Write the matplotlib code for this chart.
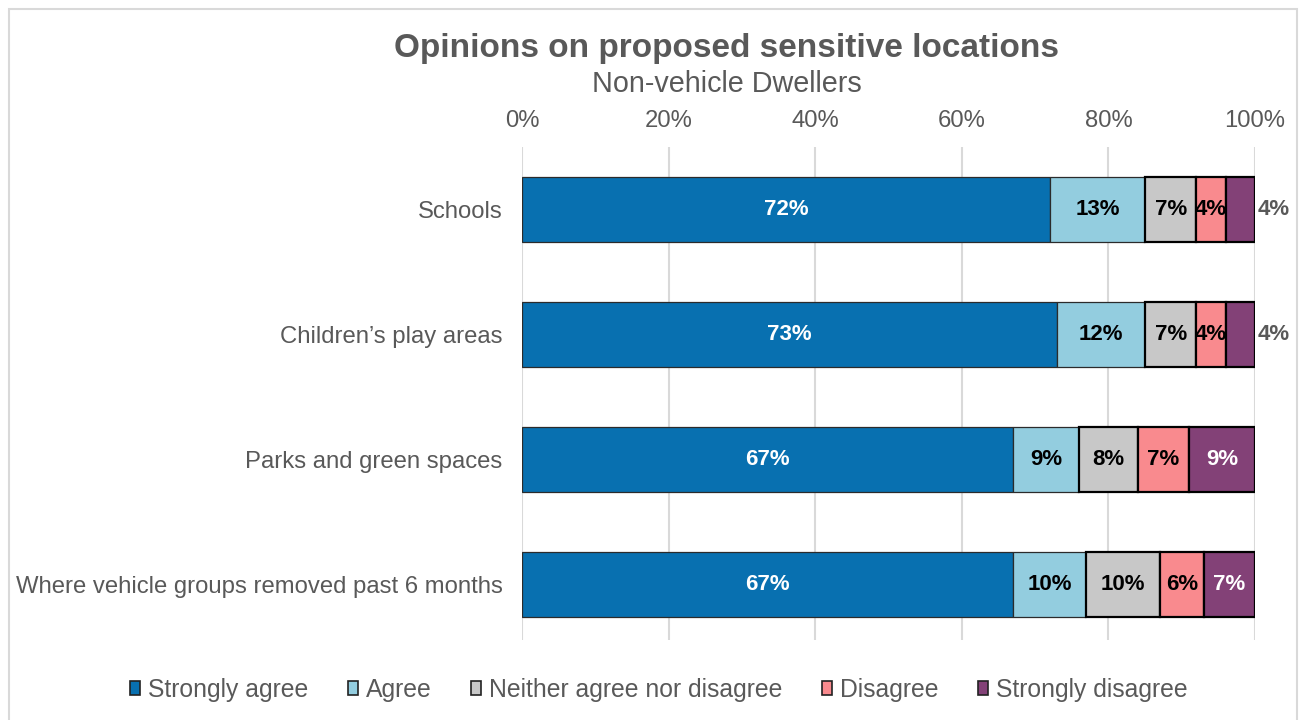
import matplotlib
matplotlib.use("Agg")
import matplotlib.pyplot as plt
from matplotlib.patches import Patch, Rectangle
import numpy as np

plt.rcParams['font.family'] = ['Liberation Sans', 'DejaVu Sans']

categories = ["Schools", "Children\u2019s play areas", "Parks and green spaces",
              "Where vehicle groups removed past 6 months"]
strongly_agree = [72, 73, 67, 67]
agree = [13, 12, 9, 10]
neither = [7, 7, 8, 10]
disagree = [4, 4, 7, 6]
strongly_disagree = [4, 4, 9, 7]

series_names = ["Strongly agree", "Agree", "Neither agree nor disagree",
                "Disagree", "Strongly disagree"]
series_values = [strongly_agree, agree, neither, disagree, strongly_disagree]
colors = ['#0870b0', '#93cddf', '#c8c8c8', '#f98a8e', '#834177']
edge_colors = ['#2b2b2b', '#2b2b2b', '#000000', '#000000', '#000000']
edge_widths = [0.9, 0.9, 1.6, 1.6, 1.6]
label_colors = ['white', 'black', 'black', 'black', 'white']
grey_text = '#595959'

W, H = 1299, 720
fig = plt.figure(figsize=(W / 100, H / 100), dpi=100)
fig.patch.set_facecolor('white')

# chart area outline
fig.patches.append(Rectangle((9 / W, -0.05), (1297 - 9) / W, 1.05 - 9 / H,
                             transform=fig.transFigure, fill=False,
                             edgecolor='#d9d9d9', linewidth=1.5, zorder=0))

ax = fig.add_axes([522 / W, 1 - 640 / H, 733 / W, 493 / H])

y = np.arange(len(categories))
left = np.zeros(len(categories))
for name, vals, c, ec, lw, lc in zip(series_names, series_values, colors,
                                     edge_colors, edge_widths, label_colors):
    vals = np.array(vals, dtype=float)
    ax.barh(y, vals, left=left, height=0.52, color=c, edgecolor=ec,
            linewidth=lw, label=name, zorder=3)
    for yi, l, v in zip(y, left, vals):
        if name == "Strongly disagree" and v < 5:
            # too narrow: put the value just outside the bar end
            ax.text(l + v + 0.3, yi, f"{v:.0f}%", ha='left', va='center',
                    color=grey_text, fontsize=16, fontweight='bold', zorder=4)
        else:
            ax.text(l + v / 2, yi, f"{v:.0f}%", ha='center', va='center',
                    color=lc, fontsize=16, fontweight='bold', zorder=4)
    left += vals

ax.set_xlim(0, 100)
ax.set_ylim(3.44, -0.5)
ax.set_yticks(y)
ax.set_yticklabels(categories)
ax.set_xticks(np.arange(0, 101, 20))
ax.set_xticklabels([f"{t}%" for t in range(0, 101, 20)])
ax.xaxis.tick_top()
ax.tick_params(axis='both', length=0, labelsize=17.2, colors=grey_text)
ax.tick_params(axis='x', pad=11)
ax.tick_params(axis='y', pad=14)
ax.grid(axis='x', color='#d9d9d9', linewidth=1.5, zorder=0)
ax.set_axisbelow(True)
for s in ax.spines.values():
    s.set_visible(False)

fig.text(726 / W, 1 - 48 / H, "Opinions on proposed sensitive locations",
         ha='center', va='center', fontsize=24, fontweight='bold', color=grey_text)
fig.text(727 / W, 1 - 84 / H, "Non-vehicle Dwellers",
         ha='center', va='center', fontsize=20.7, color=grey_text)

handles = [Patch(facecolor=c, edgecolor='#222222', linewidth=1.2) for c in colors]
fig.legend(handles, series_names, loc='center', bbox_to_anchor=(659 / W, 1 - 690 / H),
           ncol=5, frameon=False, fontsize=17.8, labelcolor=grey_text,
           handlelength=0.4, handleheight=0.5, handletextpad=0.33,
           columnspacing=1.6)

fig.savefig("out.png", dpi=100, facecolor='white')
